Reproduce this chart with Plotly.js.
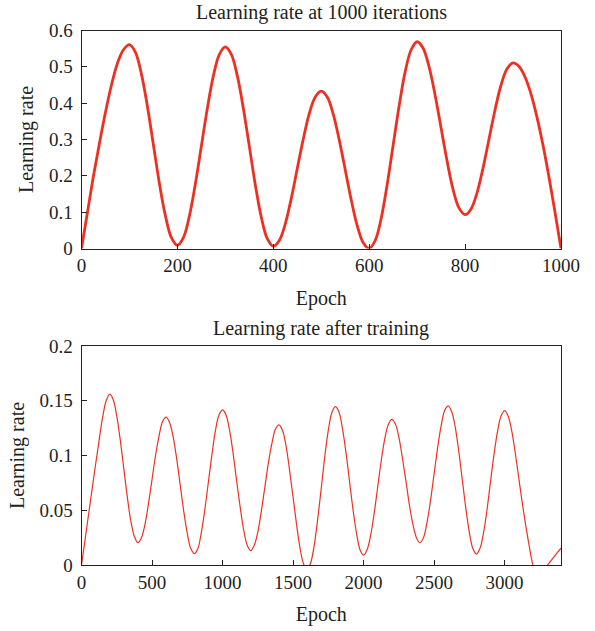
<!DOCTYPE html>
<html>
<head>
<meta charset="utf-8">
<script src="https://cdn.plot.ly/plotly-3.0.1.min.js"></script>
<style>html,body{margin:0;padding:0;background:#fff;} #chart{width:595px;height:631px;}</style>
</head>
<body>
<div id="chart"></div>
<script>
// Top chart: learning rate at 1000 iterations
const topEpoch = [0,12.5,25,37.5,50,62.5,75,87.5,100,
  112.5,125,137.5,150,162.5,175,187.5,200,
  212.5,225,237.5,250,262.5,275,287.5,300,
  312.5,325,337.5,350,362.5,375,387.5,400,
  412.5,425,437.5,450,462.5,475,487.5,500,
  512.5,525,537.5,550,562.5,575,587.5,600,
  612.5,625,637.5,650,662.5,675,687.5,700,
  712.5,725,737.5,750,762.5,775,787.5,800,
  812.5,825,837.5,850,862.5,875,887.5,900,
  912.5,925,937.5,950,962.5,975,987.5,1000];
const topRate = [0,0.10,0.20,0.29,0.375,0.45,0.51,0.547,0.561,
  0.540,0.480,0.391,0.285,0.179,0.090,0.030,0.009,
  0.030,0.089,0.178,0.282,0.386,0.475,0.534,0.555,
  0.534,0.475,0.386,0.281,0.175,0.086,0.027,0.006,
  0.022,0.068,0.138,0.220,0.301,0.371,0.417,0.433,
  0.417,0.370,0.299,0.217,0.134,0.063,0.016,0,
  0.022,0.083,0.176,0.285,0.393,0.486,0.547,0.569,
  0.551,0.499,0.422,0.331,0.240,0.162,0.111,0.093,
  0.109,0.154,0.222,0.302,0.382,0.450,0.495,0.511,
  0.501,0.472,0.425,0.361,0.284,0.196,0.100,0];

// Bottom chart: learning rate after training
const botEpoch = [0,
  25,50,75,100,125,150,175,200,
  225,250,275,300,325,350,375,400,
  425,450,475,500,525,550,575,600,
  625,650,675,700,725,750,775,800,
  825,850,875,900,925,950,975,1000,
  1025,1050,1075,1100,1125,1150,1175,1200,
  1225,1250,1275,1300,1325,1350,1375,1400,
  1425,1450,1475,1500,1525,1550,1575,1600,
  1625,1650,1675,1700,1725,1750,1775,1800,
  1825,1850,1875,1900,1925,1950,1975,2000,
  2025,2050,2075,2100,2125,2150,2175,2200,
  2225,2250,2275,2300,2325,2350,2375,2400,
  2425,2450,2475,2500,2525,2550,2575,2600,
  2625,2650,2675,2700,2725,2750,2775,2800,
  2825,2850,2875,2900,2925,2950,2975,3000,
  3025,3050,3075,3100,3125,3150,3175,3200,
  3225,3250,3275,3300,3325,3350,3375,3400];
const botRate = [0,
  0.023,0.046,0.069,0.092,0.114,0.135,0.150,0.156,
  0.151,0.136,0.114,0.088,0.062,0.040,0.026,0.0204,
  0.025,0.037,0.056,0.078,0.100,0.118,0.131,0.135,
  0.130,0.117,0.097,0.073,0.049,0.029,0.015,0.0103,
  0.015,0.030,0.051,0.076,0.101,0.123,0.137,0.1417,
  0.137,0.123,0.102,0.077,0.053,0.032,0.018,0.0131,
  0.018,0.030,0.049,0.071,0.093,0.111,0.124,0.128,
  0.123,0.109,0.087,0.062,0.037,0.015,0.001,-0.004,
  0.002,0.018,0.042,0.070,0.099,0.123,0.139,0.1447,
  0.140,0.125,0.103,0.077,0.051,0.029,0.014,0.0091,
  0.014,0.027,0.047,0.071,0.095,0.115,0.128,0.133,
  0.129,0.117,0.098,0.077,0.055,0.037,0.025,0.0204,
  0.025,0.039,0.059,0.083,0.107,0.127,0.141,0.1453,
  0.140,0.126,0.104,0.078,0.052,0.030,0.015,0.010,
  0.015,0.029,0.050,0.076,0.101,0.122,0.136,0.141,
  0.136,0.123,0.103,0.080,0.057,0.036,0.017,0.0,
  -0.012,-0.018,-0.012,-0.001,0.0033,0.0075,0.0115,0.0153];

const titles = ["Learning rate at 1000 iterations", "Learning rate after training"];
const xTitle = "Epoch";
const yTitle = "Learning rate";

const W = 595, H = 631;
const font = "Liberation Serif, Times New Roman, serif";
const txt = "#231f20";
const red = "#ec3122";

const axisCommon = {
  showline: true, linecolor: "#222", linewidth: 1, mirror: true,
  ticks: "inside", ticklen: 5, tickwidth: 1, tickcolor: "#222",
  showgrid: false, zeroline: false,
  tickfont: {family: font, size: 19, color: txt},
  automargin: false
};

const xd = [81.5/W, 561/W];
const y1d = [1-248.5/H, 1-30.5/H];
const y2d = [1-565/H, 1-346/H];

const traces = [
  {x: topEpoch, y: topRate, type: "scatter", mode: "lines",
   line: {color: red, width: 2.8, shape: "spline", smoothing: 1},
   xaxis: "x", yaxis: "y", hoverinfo: "skip"},
  {x: botEpoch, y: botRate, type: "scatter", mode: "lines",
   line: {color: red, width: 1.2, shape: "spline", smoothing: 1},
   xaxis: "x2", yaxis: "y2", hoverinfo: "skip"}
];

const layout = {
  width: W, height: H,
  margin: {l: 0, r: 0, t: 0, b: 0},
  paper_bgcolor: "#fff", plot_bgcolor: "#fff",
  showlegend: false,
  font: {family: font, color: txt},
  xaxis: Object.assign({}, axisCommon, {
    domain: xd, anchor: "y", range: [0, 1000], dtick: 200, tick0: 0,
    title: {text: xTitle, font: {family: font, size: 20, color: txt}, standoff: 15}
  }),
  yaxis: Object.assign({}, axisCommon, {
    domain: y1d, anchor: "x", range: [0, 0.6], dtick: 0.1, tick0: 0,
    ticklabelstandoff: 4,
    title: {text: yTitle, font: {family: font, size: 20, color: txt}, standoff: 9}
  }),
  xaxis2: Object.assign({}, axisCommon, {
    domain: xd, anchor: "y2", range: [0, 3400], dtick: 500, tick0: 0,
    title: {text: xTitle, font: {family: font, size: 20, color: txt}, standoff: 15}
  }),
  yaxis2: Object.assign({}, axisCommon, {
    domain: y2d, anchor: "x2", range: [0, 0.2], dtick: 0.05, tick0: 0,
    ticklabelstandoff: 4,
    title: {text: yTitle, font: {family: font, size: 20, color: txt}, standoff: 9}
  }),
  annotations: [
    {text: titles[0], xref: "paper", yref: "paper", x: (xd[0]+xd[1])/2, y: 1-13/H,
     xanchor: "center", yanchor: "middle", showarrow: false,
     font: {family: font, size: 20, color: txt}},
    {text: titles[1], xref: "paper", yref: "paper", x: (xd[0]+xd[1])/2, y: 1-329/H,
     xanchor: "center", yanchor: "middle", showarrow: false,
     font: {family: font, size: 20, color: txt}}
  ]
};

Plotly.newPlot("chart", traces, layout, {staticPlot: true, displayModeBar: false});
</script>
</body>
</html>
